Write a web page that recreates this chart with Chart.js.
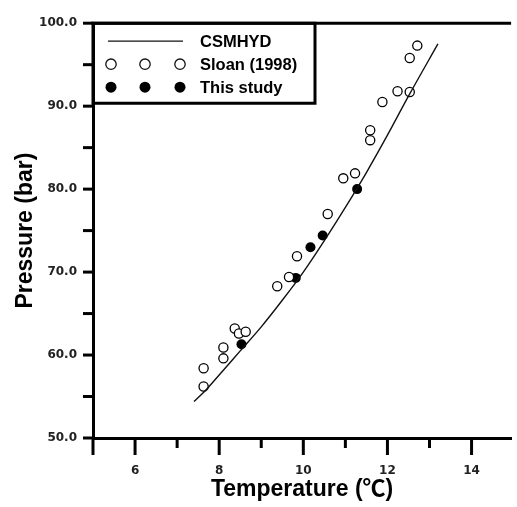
<!DOCTYPE html>
<html>
<head>
<meta charset="utf-8">
<script src="https://cdn.jsdelivr.net/npm/chart.js@4"></script>
<style>
  html, body { margin: 0; padding: 0; background: #fff; }
  #wrap { width: 517px; height: 507px; }
</style>
</head>
<body>
<div id="wrap"><canvas id="chart"></canvas></div>
<script>
// CSMHYD prediction curve
const csmhydTemp = [7.4, 7.65, 8.0, 8.5, 9.0, 9.5, 10.0, 10.5, 11.0, 11.5, 12.0, 12.5, 13.2];
const csmhydPres = [54.4, 55.6, 57.6, 60.5, 63.4, 66.6, 70.0, 73.8, 77.8, 82.0, 86.5, 91.2, 97.5];

// Sloan (1998)
const sloanTemp = [7.63, 7.63, 8.10, 8.10, 8.37, 8.47, 8.63, 9.38, 9.66, 9.85,
                   10.58, 10.95, 11.23, 11.59, 11.59, 11.88, 12.24, 12.53, 12.53, 12.71];
const sloanPres = [56.2, 58.4, 59.6, 60.9, 63.2, 62.6, 62.8, 68.3, 69.4, 71.9,
                   77.0, 81.3, 81.9, 87.1, 85.9, 90.5, 91.8, 91.7, 95.8, 97.3];

// This study
const studyTemp = [8.53, 9.82, 10.17, 10.46, 11.28];
const studyPres = [61.3, 69.3, 73.0, 74.4, 80.0];

// axes
const xLabelTicks = [6, 8, 10, 12, 14];
const xMajorTicks = [5, 6, 8, 10, 12, 14];
const xMinorTicks = [7, 9, 11, 13];
const yLabelTicks = [50, 60, 70, 80, 90, 100];
const yMinorTicks = [55, 65, 75, 85, 95];

const legendLabels = ['CSMHYD', 'Sloan (1998)', 'This study'];

const pts = (xs, ys) => xs.map((x, i) => ({x: x, y: ys[i]}));

const tickFont = {family: '"DejaVu Sans", sans-serif', size: 12, weight: 'bold'};
const titleFont = {family: '"Liberation Sans", Arial, "Noto Sans CJK SC", sans-serif', size: 23, weight: 'bold'};

// custom ticks, top frame line and legend box
const decorations = {
  id: 'decorations',
  afterDraw(chart) {
    const {ctx, chartArea, scales} = chart;
    const xs = scales.x, ys = scales.y;
    ctx.save();
    ctx.strokeStyle = '#000';
    ctx.lineWidth = 3;
    ctx.lineCap = 'butt';

    // top frame
    ctx.beginPath();
    ctx.moveTo(chartArea.left - 1.5, chartArea.top);
    ctx.lineTo(chartArea.right, chartArea.top);
    ctx.stroke();

    // x ticks
    const tick = (v, len) => {
      const px = xs.getPixelForValue(v);
      ctx.beginPath();
      ctx.moveTo(px, chartArea.bottom);
      ctx.lineTo(px, chartArea.bottom + len);
      ctx.stroke();
    };
    xMajorTicks.forEach(v => tick(v, 17));
    xMinorTicks.forEach(v => tick(v, 10));

    // y ticks
    yLabelTicks.concat(yMinorTicks).forEach(v => {
      const py = ys.getPixelForValue(v);
      ctx.beginPath();
      ctx.moveTo(chartArea.left, py);
      ctx.lineTo(chartArea.left - 10, py);
      ctx.stroke();
    });

    // legend
    const bx = chartArea.left, by = chartArea.top;
    const bw = 222, bh = 80;
    ctx.beginPath();
    ctx.rect(bx, by, bw, bh);
    ctx.stroke();

    const rows = [by + 18, by + 41, by + 64];
    ctx.lineWidth = 1.3;
    ctx.strokeStyle = '#111';
    ctx.beginPath();
    ctx.moveTo(bx + 15, rows[0]);
    ctx.lineTo(bx + 90, rows[0]);
    ctx.stroke();

    [bx + 18, bx + 52, bx + 87].forEach(cx => {
      ctx.lineWidth = 1.3;
      ctx.beginPath();
      ctx.arc(cx, rows[1], 5.2, 0, Math.PI * 2);
      ctx.fillStyle = '#fff';
      ctx.fill();
      ctx.stroke();
      ctx.beginPath();
      ctx.arc(cx, rows[2], 5.5, 0, Math.PI * 2);
      ctx.fillStyle = '#000';
      ctx.fill();
    });

    ctx.fillStyle = '#000';
    ctx.font = 'bold 16.5px "Liberation Sans", Arial, sans-serif';
    ctx.textBaseline = 'middle';
    ctx.textAlign = 'left';
    legendLabels.forEach((t, i) => ctx.fillText(t, bx + 107, rows[i] + 1));
    ctx.restore();
  }
};

new Chart(document.getElementById('chart'), {
  type: 'scatter',
  data: {
    datasets: [
      {
        label: legendLabels[0],
        data: pts(csmhydTemp, csmhydPres),
        showLine: true,
        borderColor: '#111',
        borderWidth: 1.4,
        pointRadius: 0,
        cubicInterpolationMode: 'monotone',
        fill: false
      },
      {
        label: legendLabels[1],
        data: pts(sloanTemp, sloanPres),
        pointRadius: 4.6,
        pointBorderWidth: 1.3,
        pointBorderColor: '#000',
        pointBackgroundColor: '#fff'
      },
      {
        label: legendLabels[2],
        data: pts(studyTemp, studyPres),
        pointRadius: 5,
        pointBorderWidth: 0,
        pointBorderColor: '#000',
        pointBackgroundColor: '#000'
      }
    ]
  },
  options: {
    responsive: true,
    maintainAspectRatio: false,
    animation: false,
    layout: {padding: {top: 12, right: 0, left: 0, bottom: 0}},
    plugins: {
      legend: {display: false},
      tooltip: {enabled: false}
    },
    scales: {
      x: {
        type: 'linear',
        min: 5,
        max: 14.94,
        afterBuildTicks: s => { s.ticks = xLabelTicks.map(v => ({value: v})); },
        afterFit: s => { s.height = 69; },
        grid: {display: false, drawTicks: false},
        border: {display: true, color: '#000', width: 3},
        ticks: {color: '#222', font: tickFont, padding: 26, maxRotation: 0},
        title: {display: true, text: 'Temperature (\u2103)', color: '#000', font: titleFont, padding: {top: 0, bottom: 4}}
      },
      y: {
        type: 'linear',
        min: 50,
        max: 100,
        afterBuildTicks: s => { s.ticks = yLabelTicks.map(v => ({value: v})); },
        afterFit: s => { s.width = 93; },
        grid: {display: false, drawTicks: false},
        border: {display: true, color: '#000', width: 3},
        ticks: {color: '#222', font: tickFont, padding: 16, callback: v => v.toFixed(1)},
        title: {display: true, text: 'Pressure (bar)', color: '#000', font: titleFont, padding: {top: 12, bottom: 0}}
      }
    }
  },
  plugins: [decorations]
});
</script>
</body>
</html>
